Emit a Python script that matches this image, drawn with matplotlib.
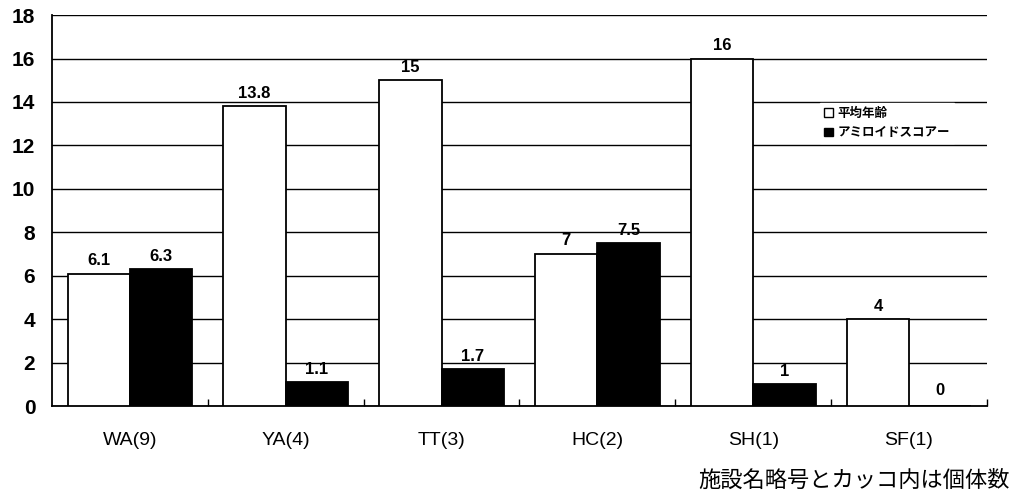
import numpy as np
import matplotlib
matplotlib.use("Agg")
import matplotlib.pyplot as plt
from matplotlib.patches import Patch

plt.rcParams['font.family'] = ['Liberation Sans', 'Noto Sans CJK JP', 'DejaVu Sans']

categories = ['WA(9)', 'YA(4)', 'TT(3)', 'HC(2)', 'SH(1)', 'SF(1)']
avg_age = [6.1, 13.8, 15, 7, 16, 4]
amyloid_score = [6.3, 1.1, 1.7, 7.5, 1, 0]
age_labels = ['6.1', '13.8', '15', '7', '16', '4']
score_labels = ['6.3', '1.1', '1.7', '7.5', '1', '0']
legend_names = ['平均年齢', 'アミロイドスコアー']
yticks = [0, 2, 4, 6, 8, 10, 12, 14, 16, 18]
caption = '施設名略号とカッコ内は個体数'

fig = plt.figure(figsize=(10.13, 4.98), dpi=100)
ax = fig.add_axes([0.0513, 0.1847, 0.923, 0.785])

x = np.arange(len(categories))
w = 0.4
ax.bar(x - w / 2, avg_age, w, color='white', edgecolor='black', linewidth=1.3, zorder=3)
ax.bar(x + w / 2, amyloid_score, w, color='black', edgecolor='black', linewidth=1.3, zorder=3)

for xi, v, s in zip(x, avg_age, age_labels):
    ax.annotate(s, (xi - w / 2, v), xytext=(0, 4), textcoords='offset points',
                ha='center', va='bottom', fontsize=12, fontweight='bold')
for xi, v, s in zip(x, amyloid_score, score_labels):
    ax.annotate(s, (xi + w / 2, v), xytext=(0, 4) if v > 0 else (0, 6),
                textcoords='offset points',
                ha='center', va='bottom', fontsize=12, fontweight='bold')

ax.set_xlim(-0.5, len(categories) - 0.5)
ax.set_ylim(0, 18)
ax.set_yticks(yticks)
ax.yaxis.grid(True, color='black', linewidth=1.0, zorder=0)
ax.set_axisbelow(True)

ax.set_xticks(x)
ax.set_xticklabels(categories, fontsize=14)
ax.set_xticks(np.arange(len(categories)) + 0.5, minor=True)
ax.tick_params(axis='x', which='major', length=0, pad=19)
ax.tick_params(axis='x', which='minor', direction='in', length=5, width=1.0)
ax.tick_params(axis='y', length=0, pad=12, labelsize=15)
for lab in ax.get_yticklabels():
    lab.set_fontweight('bold')

ax.spines['right'].set_visible(False)
ax.spines['top'].set_visible(False)
for sp in ['left', 'bottom']:
    ax.spines[sp].set_linewidth(1.3)

handles = [Patch(facecolor='white', edgecolor='black', linewidth=1.0),
           Patch(facecolor='black', edgecolor='black')]
leg = ax.legend(handles, legend_names, loc='upper left', bbox_to_anchor=(0.815, 0.79),
                frameon=True, fancybox=False, edgecolor='white', framealpha=1,
                prop={'family': ['Noto Sans CJK JP', 'DejaVu Sans'], 'size': 9, 'weight': 'bold'},
                handlelength=0.7, handleheight=0.7, handletextpad=0.4,
                labelspacing=0.5, borderpad=0.3)
leg.set_zorder(5)

fig.text(0.997, 0.035, caption, ha='right', va='center', fontsize=16,
         family=['Noto Sans CJK JP', 'DejaVu Sans'])

fig.savefig('out.png', dpi=100)
